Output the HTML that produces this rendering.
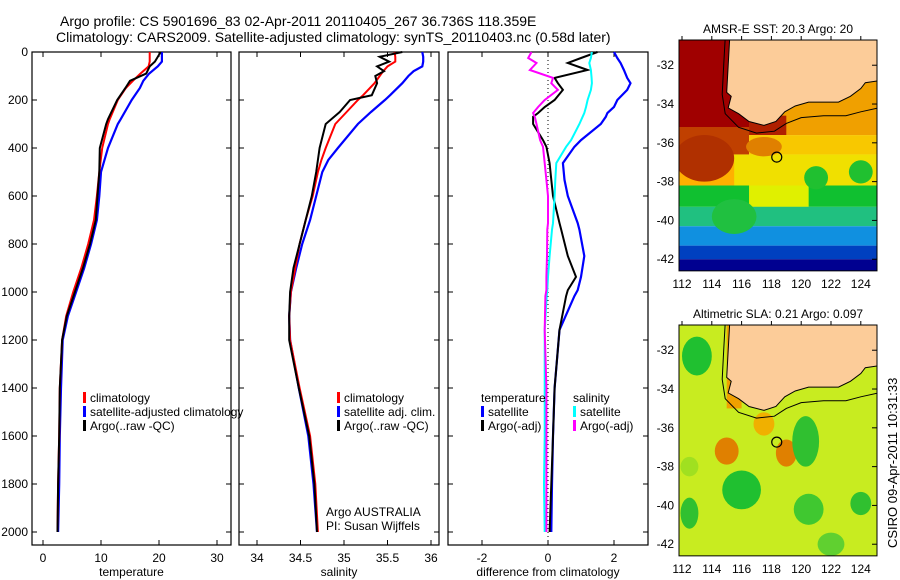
<!DOCTYPE html>
<html><head><meta charset="utf-8"><style>
body{margin:0;background:#fff;}
svg{display:block;font-family:"Liberation Sans",sans-serif;}
text{font-size:12px;fill:#000;}
</style></head><body>
<svg id="fig" width="900" height="580" viewBox="0 0 900 580" xmlns="http://www.w3.org/2000/svg">
<text x="60" y="26" style="font-size:14px">Argo profile: CS 5901696_83 02-Apr-2011 20110405_267 36.736S 118.359E</text>
<text x="56" y="42" style="font-size:14px">Climatology: CARS2009. Satellite-adjusted climatology: synTS_20110403.nc (0.58d later)</text>
<g id="panels"></g>
<g id="maps"></g>
<text transform="translate(897,548) rotate(-90)" style="font-size:13px">CSIRO 09-Apr-2011 10:31:33</text>
</svg>
<script>
// ---- data ----
const tDepth=[0,40,60,90,120,150,200,280,300,400,500,600,700,800,900,1000,1100,1200,1400,1600,1800,2000];
const tClim=[18.4,18.4,18.2,16.8,15.5,14.3,12.9,11.5,11.2,10.2,9.7,9.3,8.8,7.8,6.6,5.2,4.0,3.3,2.9,2.8,2.6,2.5];
const tSat=[20.5,20.5,19.8,18.3,17.3,16.7,15.3,13.4,12.9,11.2,10.0,9.7,9.3,8.3,7.1,5.7,4.3,3.4,3.1,2.9,2.8,2.6];
const tArgo=[20.3,19.3,18.4,17.8,15.0,14.2,12.8,11.2,10.9,9.8,9.7,9.4,9.1,8.1,6.9,5.5,4.1,3.3,2.9,2.8,2.6,2.5];
const sDepth=[0,20,40,60,80,100,130,180,200,250,300,400,450,500,600,700,800,900,1000,1100,1200,1400,1600,1800,2000];
const sClim=[35.58,35.59,35.59,35.5,35.45,35.41,35.35,35.22,35.16,35.03,34.9,34.79,34.74,34.70,34.64,34.56,34.49,34.44,34.39,34.37,34.38,34.49,34.61,34.67,34.70];
const sSat=[35.9,35.91,35.91,35.9,35.8,35.74,35.67,35.53,35.47,35.31,35.16,34.93,34.82,34.75,34.68,34.61,34.52,34.45,34.39,34.37,34.38,34.48,34.59,34.65,34.69];
const sArgo=[35.67,35.41,35.52,35.38,35.46,35.36,35.38,35.32,35.07,34.95,34.79,34.72,34.70,34.68,34.63,34.56,34.49,34.42,34.38,34.37,34.37,34.48,34.60,34.66,34.69];
const dDepth=[0,25,46,75,108,130,158,200,229,254,270,300,367,395,463,533,600,713,740,850,937,992,1017,1158,1400,1600,1800,2000];
const dTempSat=[2.0,2.1,2.2,2.3,2.4,2.5,2.4,2.1,2.0,1.8,1.75,1.6,1.0,0.8,0.45,0.5,0.6,0.9,0.95,1.1,1.0,0.9,0.8,0.35,0.2,0.15,0.12,0.1];
const dTempArgo=[1.5,1.0,0.6,1.2,0.2,0.3,0.45,0.2,-0.1,-0.3,-0.45,-0.45,-0.15,-0.05,0.05,0.1,0.15,0.35,0.4,0.6,0.85,0.6,0.55,0.35,0.2,0.15,0.1,0.05];
const dSalSat=[1.33,1.3,1.25,1.3,1.32,1.33,1.3,1.2,1.15,1.1,1.05,0.95,0.7,0.55,0.25,0.22,0.2,0.15,0.12,0.05,0.0,-0.02,-0.04,-0.1,-0.1,-0.1,-0.12,-0.1];
const dSalArgo=[-0.5,-0.6,-0.35,-0.55,0.15,0.1,0.3,-0.1,-0.3,-0.45,-0.4,-0.35,-0.24,-0.15,-0.1,-0.05,0.0,0.0,-0.02,-0.03,-0.05,-0.05,-0.08,-0.1,-0.05,-0.05,-0.05,-0.05];
const tTicks=[0,10,20,30], sTicks=[34,34.5,35,35.5,36], dTicks=[-2,0,2];
const depthTicks=[0,200,400,600,800,1000,1200,1400,1600,1800,2000];
const latTicks=[-32,-34,-36,-38,-40,-42], lonTicks=[112,114,116,118,120,122,124];
const argoLon=118.359, argoLat=-36.736;

const NS='http://www.w3.org/2000/svg';
function mk(tag,attrs,parent){const e=document.createElementNS(NS,tag);for(const k in attrs)e.setAttribute(k,attrs[k]);parent.appendChild(e);return e;}
const yD=d=>52+0.24*d;
const P=document.getElementById('panels');
const panels=[
 {x0:32,x1:231,f:v=>43+5.8*v,ticks:tTicks,lab:'temperature',name:'temperature-panel'},
 {x0:239,x1:439,f:v=>257+87*(v-34),ticks:sTicks,lab:'salinity',name:'salinity-panel'},
 {x0:448,x1:648,f:v=>548+33*v,ticks:dTicks,lab:'difference from climatology',name:'difference-panel'}];
const yBot=545;
panels.forEach((p,i)=>{
 const g=mk('g',{},P);
 
 
 const r=mk('rect',{x:p.x0,y:52,width:p.x1-p.x0,height:yBot-52,fill:'none',stroke:'#000','stroke-width':1.2},g);
 
 
 p.ticks.forEach(t=>{const x=p.f(t);
  mk('line',{x1:x,x2:x,y1:yBot,y2:yBot-5,stroke:'#000'},g);mk('line',{x1:x,x2:x,y1:52,y2:57,stroke:'#000'},g);
  const tx=mk('text',{x:x,y:yBot+17,'text-anchor':'middle'},g);tx.textContent=t;
  
  });
 depthTicks.forEach(d=>{const y=yD(d);
  mk('line',{x1:p.x0,x2:p.x0+5,y1:y,y2:y,stroke:'#000'},g);mk('line',{x1:p.x1,x2:p.x1-5,y1:y,y2:y,stroke:'#000'},g);
  if(i==0){const tx=mk('text',{x:p.x0-4,y:y+4,'text-anchor':'end'},g);tx.textContent=d;
   
   }});
 const xl=mk('text',{x:(p.x0+p.x1)/2,y:yBot+31,'text-anchor':'middle'},g);xl.textContent=p.lab;
 
 
});
function line(depths,vals,f,col,name,w){
 const pts=depths.map((d,i)=>f(vals[i]).toFixed(1)+','+yD(d).toFixed(1)).join(' ');
 const e=mk('polyline',{points:pts,fill:'none',stroke:col,'stroke-width':w||2},P);
 
 }
const zl=mk('line',{x1:548,x2:548,y1:52,y2:yBot,stroke:'#000','stroke-dasharray':'1,3'},P);


line(tDepth,tSat,panels[0].f,'#0000ff','temp-satellite-line',2.2);
line(tDepth,tClim,panels[0].f,'#ff0000','temp-climatology-line',2);
line(tDepth,tArgo,panels[0].f,'#000','temp-argo-line',2);
line(sDepth,sSat,panels[1].f,'#0000ff','sal-satellite-line',2.2);
line(sDepth,sClim,panels[1].f,'#ff0000','sal-climatology-line',2);
line(sDepth,sArgo,panels[1].f,'#000','sal-argo-line',2);
line(dDepth,dTempSat,panels[2].f,'#0000ff','diff-temp-satellite-line',2.2);
line(dDepth,dTempArgo,panels[2].f,'#000','diff-temp-argo-line',2);
line(dDepth,dSalSat,panels[2].f,'#00ffff','diff-sal-satellite-line',2);
line(dDepth,dSalArgo,panels[2].f,'#ff00ff','diff-sal-argo-line',2);
function legend(x,y,items,name){
 const g=mk('g',{},P);
 
 
 items.forEach((it,i)=>{const yy=y+i*14;
  if(it[0])mk('rect',{x:x,y:yy-10,width:3,height:11,fill:it[0]},g);
  const t=mk('text',{x:x+(it[0]?7:0),y:yy},g);t.textContent=it[1];});}
legend(83,402,[['#ff0000','climatology'],['#0000ff','satellite-adjusted climatology'],['#000','Argo(..raw -QC)']],'temperature-legend');
legend(337,402,[['#ff0000','climatology'],['#0000ff','satellite adj. clim.'],['#000','Argo(..raw -QC)']],'salinity-legend');
legend(481,402,[[null,'temperature'],['#0000ff','satellite'],['#000','Argo(-adj)']],'diff-temp-legend');
legend(573,402,[[null,'  salinity'],['#00ffff','satellite'],['#ff00ff','Argo(-adj)']],'diff-sal-legend');
const al=mk('text',{x:326,y:516},P);al.textContent='Argo AUSTRALIA';


const pl=mk('text',{x:326,y:530},P);pl.textContent='PI: Susan Wijffels';



// ---- maps ----
const M=document.getElementById('maps');
const land=[[115.2,-30.6],[115.1,-32],[115.0,-33.4],[115.3,-33.6],[115.1,-34.2],[115.8,-34.5],[116.5,-34.9],[117.5,-35.1],[118.3,-34.9],[118.9,-34.4],[119.6,-34.1],[120.5,-33.9],[121.8,-33.9],[122.5,-33.9],[123.3,-33.6],[124.0,-33.2],[124.3,-32.9],[125.2,-32.8],[125.2,-30.6]];
const shelfLine=[[114.9,-30.6],[114.8,-32],[114.7,-33.5],[114.9,-34.5],[115.8,-35.2],[117,-35.5],[118.2,-35.4],[119,-35.0],[120,-34.7],[121.5,-34.6],[123,-34.6],[124,-34.4],[125.2,-34.2]];
function drawMap(top,bands,blobs,title,name){
 const lx=v=>682+(v-112)*14.9, ly=v=>top+(-30.7-v)*19.4;
 const g=mk('g',{},M);
 
 
 const cid='clip'+top;const cp=mk('clipPath',{id:cid},g);mk('rect',{x:679,y:top,width:198,height:ly(-42.6)-top},cp);
 const gg=mk('g',{'clip-path':'url(#'+cid+')'},g);
 bands.forEach(b=>mk('rect',{x:lx(b[0]),y:ly(b[1]),width:lx(b[2])-lx(b[0]),height:ly(b[3])-ly(b[1]),fill:b[4]},gg));
 blobs.forEach(b=>mk('ellipse',{cx:lx(b[0]),cy:ly(b[1]),rx:b[2]*14.9,ry:b[3]*19.4,fill:b[4]},gg));
 const lp=land.map(p=>lx(p[0]).toFixed(1)+','+ly(p[1]).toFixed(1)).join(' ');
 const shelf=shelfLine.map(p=>lx(p[0]).toFixed(1)+','+ly(p[1]).toFixed(1)).join(' ');
 mk('polyline',{points:shelf,fill:'none',stroke:'#000','stroke-width':1},gg);
 const lpoly=mk('polygon',{points:lp,fill:'#fccc99',stroke:'#000','stroke-width':1},gg);
 
 
 const c=mk('circle',{cx:lx(argoLon),cy:ly(argoLat),r:5,fill:'none',stroke:'#000','stroke-width':1.2},gg);
 
 
 mk('rect',{x:679,y:top,width:198,height:ly(-42.6)-top,fill:'none',stroke:'#000'},g);
 latTicks.forEach(v=>{const y=ly(v);mk('line',{x1:877,x2:872,y1:y,y2:y,stroke:'#000'},g);
  const t=mk('text',{x:674,y:y+4,'text-anchor':'end'},g);t.textContent=v;
  
  });
 const yb=ly(-42.6);
 lonTicks.forEach(v=>{const x=lx(v);mk('line',{x1:x,x2:x,y1:top,y2:top-4,stroke:'#000'},g);
  const t=mk('text',{x:x,y:yb+17,'text-anchor':'middle'},g);t.textContent=v;
  
  });
 const tt=mk('text',{x:778,y:top-7,'text-anchor':'middle'},g);tt.textContent=title;
 
 
}
drawMap(40,[
 [111,-30,126,-35.6,'#f0a000'],[111,-30,116.5,-35.2,'#a00000'],[116.5,-34.6,119,-35.6,'#b02000'],
 [111,-35.2,116.5,-36.6,'#c04000'],[116.5,-35.6,126,-36.6,'#f8c800'],
 [111,-36.6,126,-38.2,'#f0e000'],[111,-36.6,115.5,-38.2,'#ffb000'],[111,-38.2,126,-39.3,'#10c030'],[116.5,-38.2,120.5,-39.3,'#e0f000'],
 [111,-39.3,126,-40.3,'#20c080'],[111,-40.3,126,-41.3,'#1090e0'],[111,-41.3,126,-42,'#0040c0'],[111,-42,126,-43,'#000090']],
 [[113.5,-36.8,2.0,1.2,'#b03000'],[115.5,-39.8,1.5,0.9,'#20c040'],[121,-37.8,0.8,0.6,'#20c030'],[124,-37.5,0.8,0.6,'#20c030'],[117.5,-36.2,1.2,0.5,'#e08000']],
 'AMSR-E SST: 20.3 Argo: 20','sst-map');
drawMap(325,[
 [111,-30,126,-44,'#c8ec20'],[115,-30,116,-35,'#f0a000']],
 [[113,-32.3,1.0,1.0,'#20c030'],[115,-37.2,0.8,0.7,'#e08000'],[119,-37.3,0.7,0.7,'#e08000'],[120.3,-36.7,0.9,1.3,'#30c030'],
  [116,-39.2,1.3,1.0,'#20c030'],[120.5,-40.2,1.0,0.8,'#40c830'],[112.5,-40.4,0.6,0.8,'#30c030'],[124,-39.9,0.7,0.6,'#30c030'],[122,-42,0.9,0.6,'#60d030'],[112.5,-38,0.6,0.5,'#a0e020'],[117.5,-35.8,0.7,0.6,'#f0b000']],
 'Altimetric SLA: 0.21 Argo: 0.097','sla-map');
</script>
</body></html>
